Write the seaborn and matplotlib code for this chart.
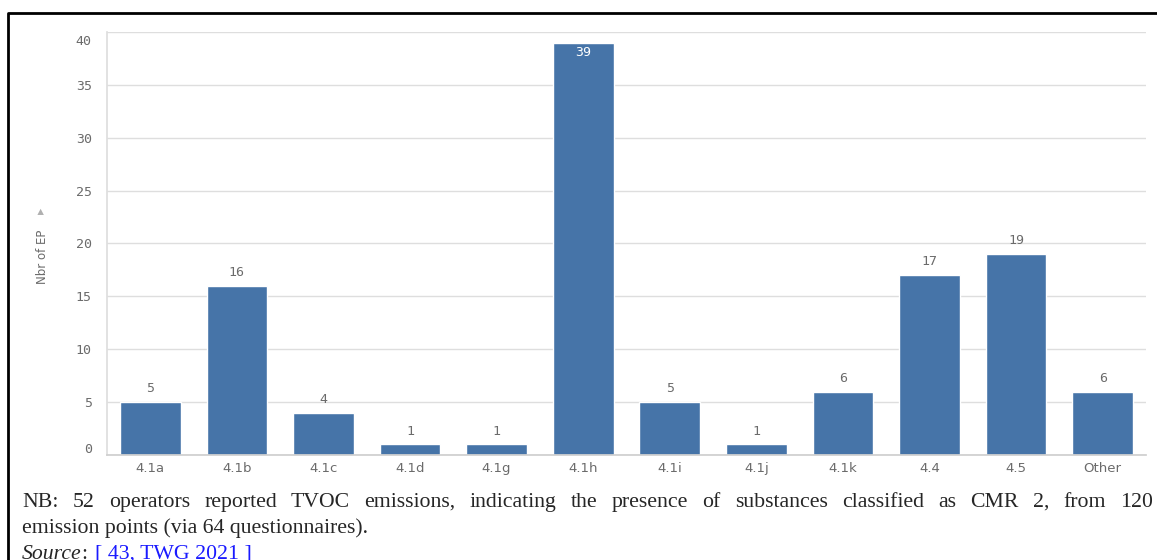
"""Bar chart of emission points by BAT category, with the report caption below."""
import matplotlib
matplotlib.use("Agg")
import matplotlib.pyplot as plt
import matplotlib.transforms as mtransforms
from matplotlib.lines import Line2D
import pandas as pd
import seaborn as sns

CATEGORIES = ["4.1a", "4.1b", "4.1c", "4.1d", "4.1g", "4.1h", "4.1i", "4.1j", "4.1k", "4.4", "4.5", "Other"]
COUNTS = [5, 16, 4, 1, 1, 39, 5, 1, 6, 17, 19, 6]
Y_TICKS = [0, 5, 10, 15, 20, 25, 30, 35, 40]
Y_LABEL = "Nbr of EP"
NOTE_LINE1 = ("NB: 52 operators reported TVOC emissions, indicating the presence of "
              "substances classified as CMR 2, from 120")
NOTE_LINE2 = "emission points (via 64 questionnaires)."
SOURCE_LABEL = "Source"
SOURCE_REF = "[ 43, TWG 2021 ]"

W, H = 1157, 560
BAR = "#4674a8"
GRID = "#dedede"
TXT = "#6b6b6b"
SERIF = "Liberation Serif"
NOTE_SIZE = 15.7


def fx(x):
    return x / W


def fy(y):
    return 1 - y / H


def draw_chart(fig):
    ax = fig.add_axes([fx(107), fy(455), fx(1146) - fx(107), fy(32) - fy(455)])
    df = pd.DataFrame({"category": CATEGORIES, "count": COUNTS})
    sns.barplot(data=df, x="category", y="count", order=CATEGORIES, color=BAR,
                saturation=1, width=0.70, ax=ax)
    ax.set_xlim(-0.5, len(CATEGORIES) - 0.5)
    ax.set_ylim(0, 40)
    ax.set_yticks(Y_TICKS)
    ax.set_yticklabels([str(t) for t in Y_TICKS], family="DejaVu Sans Mono", fontsize=9.5, color=TXT)
    ax.set_xticks(range(len(CATEGORIES)))
    ax.set_xticklabels(CATEGORIES, fontsize=9.5, color=TXT)
    ax.tick_params(axis="y", length=7, width=1, color=GRID, pad=4)
    ax.tick_params(axis="x", length=0, pad=5)
    ax.set_xlabel("")
    ax.set_ylabel("")
    ax.grid(axis="y", color=GRID, lw=1)
    ax.set_axisbelow(True)
    for side in ("top", "right"):
        ax.spines[side].set_visible(False)
    ax.spines["left"].set_color(GRID)
    ax.spines["bottom"].set_color("#cfcfcf")

    # edge tick labels are nudged inward, as in the source tool
    ticks = ax.yaxis.get_major_ticks()
    for tick, dy in ((ticks[0], 7), (ticks[-1], -8)):
        tick.label1.set_transform(tick.label1.get_transform()
                                  + mtransforms.ScaledTranslation(0, dy / 100, fig.dpi_scale_trans))

    ymax = ax.get_ylim()[1]
    for i, v in enumerate(COUNTS):
        if v > ymax - 3:
            ax.annotate(str(v), (i, v), xytext=(0, -7.2), textcoords="offset points",
                        ha="center", va="center", fontsize=9.5, color="white",
                        family="DejaVu Sans Mono")
        else:
            ax.annotate(str(v), (i, v), xytext=(0, 9.6), textcoords="offset points",
                        ha="center", va="center", fontsize=9.5, color=TXT,
                        family="DejaVu Sans Mono")

    fig.text(fx(42), fy(257), Y_LABEL, rotation=90, ha="center", va="center",
             fontsize=8.5, color=TXT)
    fig.text(fx(42), fy(211), "\u25b8", rotation=90, ha="center", va="center",
             fontsize=9, color="#b0b0b0")
    return ax


def draw_caption(fig):
    renderer = fig.canvas.get_renderer()
    left, right = 22, 1153

    # first line is justified across the full width
    words = NOTE_LINE1.split(" ")
    texts = [fig.text(0, fy(507), w, family=SERIF, fontsize=NOTE_SIZE, va="baseline") for w in words]
    widths = [t.get_window_extent(renderer).width for t in texts]
    gap = (right - left - sum(widths)) / (len(words) - 1)
    x = left
    for t, w in zip(texts, widths):
        t.set_x(fx(x))
        x += w + gap

    fig.text(fx(left), fy(533), NOTE_LINE2, family=SERIF, fontsize=NOTE_SIZE, va="baseline")

    src = fig.text(fx(left), fy(559), SOURCE_LABEL, family=SERIF, style="italic",
                   fontsize=NOTE_SIZE, va="baseline")
    x = left + src.get_window_extent(renderer).width
    colon = fig.text(fx(x), fy(559), ": ", family=SERIF, fontsize=NOTE_SIZE, va="baseline")
    x += colon.get_window_extent(renderer).width + 2
    fig.text(fx(x), fy(559), SOURCE_REF, family=SERIF, fontsize=NOTE_SIZE,
             va="baseline", color="#1a1aff")


def main() -> None:
    sns.set_theme(style="white")
    plt.rcParams["font.family"] = ["DejaVu Sans"]
    fig = plt.figure(figsize=(W / 100, H / 100), dpi=100)
    fig.patch.set_facecolor("white")

    draw_chart(fig)
    draw_caption(fig)

    # page frame around the figure
    fig.add_artist(Line2D([fx(8), fx(8), 1.0], [0.0, fy(13), fy(13)],
                          transform=fig.transFigure, color="black", lw=2))

    fig.savefig("out.png", dpi=100)
    plt.close(fig)


if __name__ == "__main__":
    main()
